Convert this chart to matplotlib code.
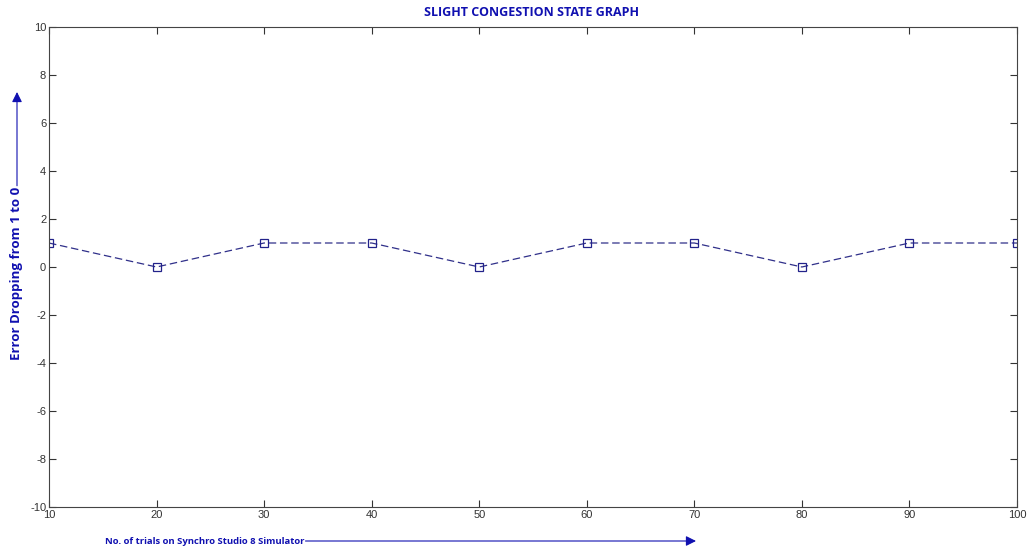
import matplotlib
matplotlib.use("Agg")
import matplotlib.pyplot as plt
from matplotlib.patches import FancyArrowPatch

plt.rcParams["axes.unicode_minus"] = False

trials = [10, 20, 30, 40, 50, 60, 70, 80, 90, 100]
error = [1, 0, 1, 1, 0, 1, 1, 0, 1, 1]
xticks = [10, 20, 30, 40, 50, 60, 70, 80, 90, 100]
yticks = [-10, -8, -6, -4, -2, 0, 2, 4, 6, 8, 10]

title = "SLIGHT CONGESTION STATE GRAPH"
xlabel = "No. of trials on Synchro Studio 8 Simulator"
ylabel = "Error Dropping from 1 to 0"

W, H = 1028, 552
fig = plt.figure(figsize=(W / 100, H / 100), dpi=100)
ax = fig.add_axes([49 / W, 1 - 507 / H, (1017 - 49) / W, (507 - 27) / H])

ax.plot(trials, error, linestyle=(0, (6, 3)), color="#30308a", linewidth=0.9,
        marker="s", markersize=6, markerfacecolor="none", markeredgecolor="#22228a",
        markeredgewidth=0.9)

ax.set_xlim(10, 100)
ax.set_ylim(-10, 10)
ax.set_xticks(xticks)
ax.set_yticks(yticks)
ax.tick_params(direction="in", length=5, width=0.8, top=True, right=True,
               labelsize=8, labelcolor="#333333", color="#333333", pad=2)
for lab in ax.get_xticklabels() + ax.get_yticklabels():
    lab.set_family(["Liberation Sans", "DejaVu Sans"])
for s in ax.spines.values():
    s.set_color("#444444")
    s.set_linewidth(0.8)

blue = "#1010b0"
fig.text(531 / W, 1 - 13 / H, title, ha="center", va="center", fontsize=9,
         fontweight="bold", color=blue, family=["Open Sans", "DejaVu Sans"])

xt = fig.text(105 / W, 1 - 541 / H, xlabel, ha="left", va="center", fontsize=6.8,
              fontweight="bold", color=blue, family=["Open Sans", "DejaVu Sans"])
yt = fig.text(17 / W, 1 - 360 / H, ylabel, ha="center", va="bottom", rotation=90,
              fontsize=9.5, fontweight="bold", color=blue,
              family=["Open Sans", "DejaVu Sans"])

fig.canvas.draw()
r = fig.canvas.get_renderer()
xb = xt.get_window_extent(r)
yb = yt.get_window_extent(r)

fig.add_artist(FancyArrowPatch(
    ((xb.x1 + 1) / W, 1 - 541 / H), (696 / W, 1 - 541 / H), transform=fig.transFigure,
    arrowstyle="-|>,head_length=6,head_width=3", color=blue, linewidth=0.8,
    shrinkA=0, shrinkB=0))
fig.add_artist(FancyArrowPatch(
    (17 / W, (yb.y1 + 1) / H), (17 / W, 1 - 92 / H), transform=fig.transFigure,
    arrowstyle="-|>,head_length=6,head_width=3", color=blue, linewidth=0.8,
    shrinkA=0, shrinkB=0))

fig.savefig("out.png", dpi=100)
